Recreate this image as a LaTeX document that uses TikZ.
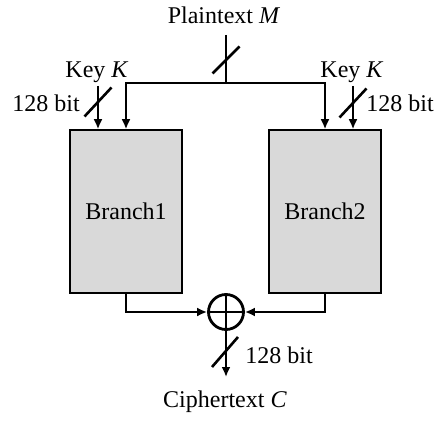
\documentclass[tikz,border=0pt]{standalone}
\usepackage{fontspec}
\setmainfont{Liberation Serif}
\usetikzlibrary{arrows.meta}
\tikzset{
 txt/.style={font=\fontsize{24}{28}\selectfont, inner sep=0pt},
 branch/.style={txt, draw, line width=1.5pt, fill=black!15, minimum width=112pt, minimum height=163pt},
 xorop/.style={circle, draw, line width=2.8pt, minimum size=35pt, inner sep=0pt},
 wire/.style={line width=2.9pt},
 feed/.style={wire, -{Latex[length=10pt,width=9pt]}},
 slash/.style={line width=2.6pt},
}
\begin{document}
\begin{tikzpicture}[x=1pt,y=1pt]
\useasboundingbox (0,0) rectangle (434,421);
\path node[txt] (M) at (224,406) {Plaintext \textit{M}}
coordinate (Min) at (226,386)
coordinate (split) at (226,338)
node[branch] (B1) at (126,209.5) {Branch1}
node[branch] (B2) at (325,209.5) {Branch2}
node[txt] (K1) at (97,349) {Key \textit{K}}
node[txt] (K2) at (352,349) {Key \textit{K}}
coordinate (K1in) at (98,335)
coordinate (K2in) at (353,335)
node[txt] (w1) at (46,318) {128 bit}
node[txt] (w2) at (400,318) {128 bit}
node[xorop] (X) at (226,109) {}
node[txt] (w3) at (279,66) {128 bit}
coordinate (Cout) at (226,44)
node[txt] (C) at (225,19) {Ciphertext \textit{C}}
;
\draw[wire] (Min) -- (split);
\draw[feed] (split) -| (B1.north);
\draw[feed] (split) -| (B2.north);
\draw[feed] (K1in) -- (K1in |- B1.north);
\draw[feed] (K2in) -- (K2in |- B2.north);
\draw[feed] (B1.south) |- (X.west);
\draw[feed] (B2.south) |- (X.east);
\draw[line width=2.4pt] (X.north) -- (X.south) (X.west) -- (X.east);
\draw[feed] (X.south) -- (Cout);
\draw[slash] (226,361) +(-13.5,-13.5) -- +(13.5,13.5);
\draw[slash] (98,319) +(-13.5,-14.5) -- +(13.5,14.5);
\draw[slash] (353,318) +(-13.5,-14.5) -- +(13.5,14.5);
\draw[slash] (225,69) +(-13,-15) -- +(13,15);
\end{tikzpicture}
\end{document}
